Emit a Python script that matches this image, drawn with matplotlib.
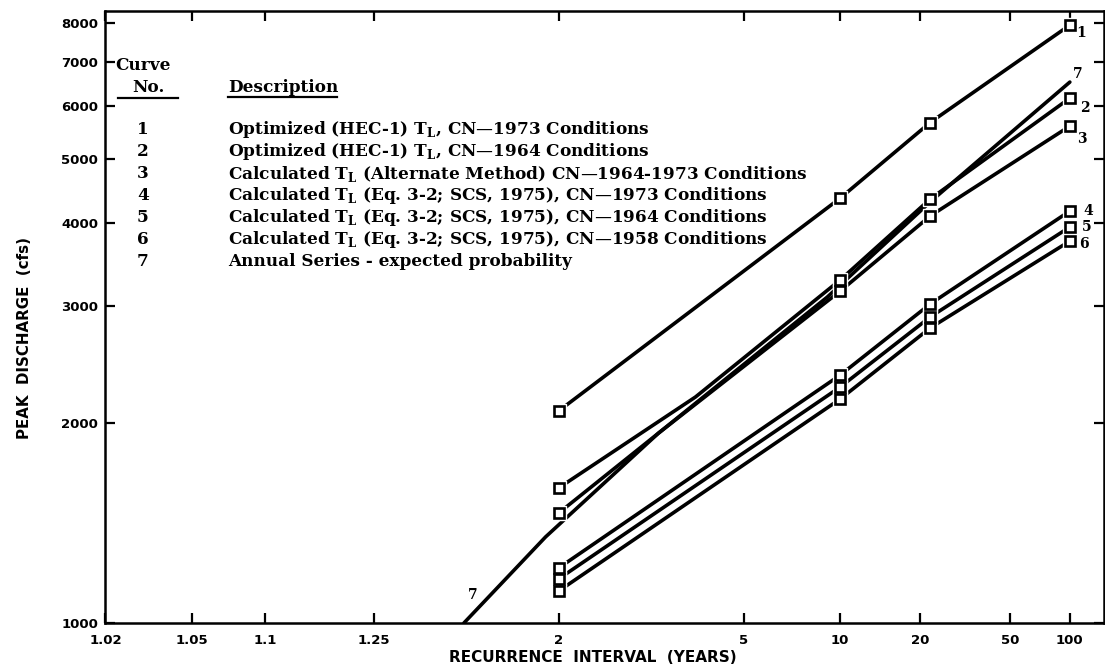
from statistics import NormalDist
import numpy as np
import matplotlib
matplotlib.use("Agg")
import matplotlib.pyplot as plt
from matplotlib.lines import Line2D
from matplotlib.ticker import FixedLocator, FixedFormatter, NullLocator

# ---- data (recurrence interval in years, peak discharge in cfs)
t_marks = [2, 10, 22, 100]
q1 = [2086, 4365, 5673, 7955]
q2 = [1597, 3287, 4351, 6175]
q3 = [1464, 3162, 4102, 5604]
q4 = [1210, 2363, 3023, 4174]
q5 = [1165, 2267, 2890, 3949]
q6 = [1117, 2175, 2782, 3761]

# hand drawn curves between the plotted points
t2_line = [2, 3.75, 10, 22, 100]
q2_line = [1597, 2190, 3287, 4351, 6175]
t3_line = [2, 3.08, 10, 22, 100]
q3_line = [1464, 1932, 3162, 4102, 5604]
t7_line = [1.5, 1.91, 3.08, 9.03, 22.2, 100]
q7_line = [1000, 1348, 1932, 3097, 4320, 6528]

x_ticks = [1.02, 1.05, 1.1, 1.25, 2, 5, 10, 20, 50, 100]
x_labels = ["1.02", "1.05", "1.1", "1.25", "2", "5", "10", "20", "50", "100"]
y_ticks = [1000, 2000, 3000, 4000, 5000, 6000, 7000, 8000]

descriptions = [
    r"Optimized (HEC-1) T$_\mathregular{L}$, CN—1973 Conditions",
    r"Optimized (HEC-1) T$_\mathregular{L}$, CN—1964 Conditions",
    r"Calculated T$_\mathregular{L}$ (Alternate Method) CN—1964-1973 Conditions",
    r"Calculated T$_\mathregular{L}$ (Eq. 3-2; SCS, 1975), CN—1973 Conditions",
    r"Calculated T$_\mathregular{L}$ (Eq. 3-2; SCS, 1975), CN—1964 Conditions",
    r"Calculated T$_\mathregular{L}$ (Eq. 3-2; SCS, 1975), CN—1958 Conditions",
    "Annual Series - expected probability",
]

# ---- normal probability scale for the recurrence interval
nd = NormalDist()
_ppf = np.vectorize(nd.inv_cdf, otypes=[float])
_cdf = np.vectorize(nd.cdf, otypes=[float])


def fwd(t):
    t = np.asarray(t, dtype=float)
    t = np.where(np.isfinite(t), t, 2.0)
    t = np.clip(t, 1.000001, 1e6)
    return _ppf(1 - 1 / t)


def inv(z):
    z = np.asarray(z, dtype=float)
    z = np.where(np.isfinite(z), z, 0.0)
    p = np.clip(_cdf(z), 0, 1 - 1e-12)
    return 1 / (1 - p)


W, H = 1105, 669
fig = plt.figure(figsize=(W / 100, H / 100), dpi=100)
ax = fig.add_axes([105 / W, 1 - 623 / H, (1103.5 - 105) / W, (623 - 11) / H])

ax.set_xscale("function", functions=(fwd, inv))
ax.set_yscale("log")
ax.set_xlim(1.0199, 152)
ax.set_ylim(1000, 8353)

lw = 2.6
ms = 7.5
for q in (q1, q4, q5, q6):
    ax.plot(t_marks, q, color="black", lw=lw, solid_capstyle="round", zorder=2)
ax.plot(t2_line, q2_line, color="black", lw=lw, solid_capstyle="round", zorder=2)
ax.plot(t3_line, q3_line, color="black", lw=lw, solid_capstyle="round", zorder=2)
ax.plot(t7_line, q7_line, color="black", lw=lw, solid_capstyle="round", zorder=2)

for q in (q1, q2, q3, q4, q5, q6):
    ax.plot(t_marks, q, ls="none", marker="s", ms=ms + 3, mfc="white", mec="white", zorder=3)
    ax.plot(t_marks, q, ls="none", marker="s", ms=ms, mfc="white", mec="black", mew=1.9, zorder=4)

# curve numbers at the ends
lab_kw = dict(textcoords="offset points", fontsize=10, fontweight="bold",
              family="DejaVu Serif", va="center", ha="center")
ax.annotate("1", (100, q1[-1]), xytext=(8, -6), **lab_kw)
ax.annotate("2", (100, q2[-1]), xytext=(11, -7), **lab_kw)
ax.annotate("3", (100, q3[-1]), xytext=(9, -9), **lab_kw)
ax.annotate("4", (100, q4[-1]), xytext=(13, 0), **lab_kw)
ax.annotate("5", (100, q5[-1]), xytext=(12, 0), **lab_kw)
ax.annotate("6", (100, q6[-1]), xytext=(10, -2), **lab_kw)
ax.annotate("7", (100, q7_line[-1]), xytext=(6, 6), **lab_kw)
ax.annotate("7", (t7_line[0], q7_line[0]), xytext=(6, 20), **lab_kw)

# axes styling
for s in ax.spines.values():
    s.set_linewidth(1.8)
ax.xaxis.set_major_locator(FixedLocator(x_ticks))
ax.xaxis.set_major_formatter(FixedFormatter(x_labels))
ax.xaxis.set_minor_locator(NullLocator())
ax.yaxis.set_major_locator(FixedLocator(y_ticks))
ax.yaxis.set_major_formatter(FixedFormatter([str(v) for v in y_ticks]))
ax.yaxis.set_minor_locator(NullLocator())
ax.tick_params(which="major", direction="in", length=7, width=1.6,
               top=True, right=True, labelsize=9.5)
ax.tick_params(axis="x", pad=8)
ax.tick_params(axis="y", pad=5)
for lbl in ax.get_xticklabels() + ax.get_yticklabels():
    lbl.set_fontweight("bold")

fig.text(593 / W, 1 - 658 / H, "RECURRENCE  INTERVAL  (YEARS)", ha="center", va="center",
         fontsize=11, fontweight="bold")
fig.text(25 / W, 1 - 338 / H, "PEAK  DISCHARGE  (cfs)", ha="center", va="center",
         rotation=90, fontsize=10.8, fontweight="bold")

# description block
serif = dict(family="DejaVu Serif", fontweight="bold", fontsize=12.2, va="center")
fig.text(115 / W, 1 - 66 / H, "Curve", ha="left", **serif)
fig.text(148 / W, 1 - 88 / H, "No.", ha="center", **serif)
fig.text(228 / W, 1 - 87 / H, "Description", ha="left", **serif)
fig.add_artist(Line2D([118 / W, 178 / W], [1 - 98 / H, 1 - 98 / H], color="black", lw=1.6))
fig.add_artist(Line2D([228 / W, 337 / W], [1 - 97 / H, 1 - 97 / H], color="black", lw=1.6))
row_y = [130, 152, 174, 196, 218, 239, 261]
for i, (yy, txt) in enumerate(zip(row_y, descriptions)):
    fig.text(143 / W, 1 - yy / H, str(i + 1), ha="center", **serif)
    fig.text(228 / W, 1 - yy / H, txt, ha="left", **serif)

fig.savefig("out.png", dpi=100)
